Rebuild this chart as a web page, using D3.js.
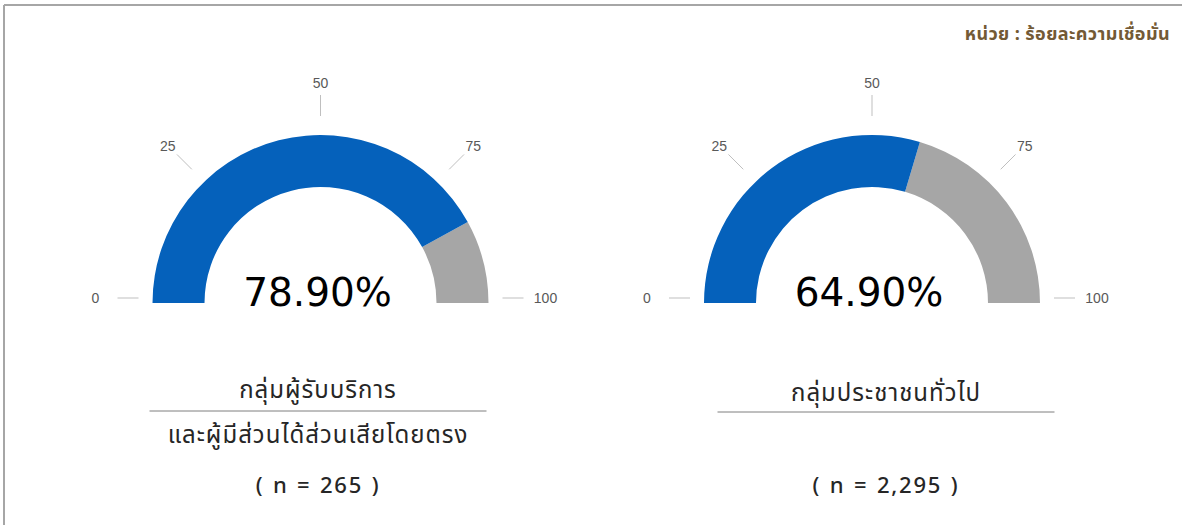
<!DOCTYPE html>
<html>
<head>
<meta charset="UTF-8">
<script src="https://d3js.org/d3.v7.min.js"></script>
<style>
  body { margin: 0; background: #fff; }
  svg { display: block; }
</style>
</head>
<body>
<svg id="chart" width="1182" height="525"></svg>
<script>
// data
const groupLine1 = ["กลุ่มผู้รับบริการ", "กลุ่มประชาชนทั่วไป"];
const groupLine2 = ["และผู้มีส่วนได้ส่วนเสียโดยตรง", ""];
const confidence = [78.9, 64.9];      // printed in the middle
const arcFill = [84.0, 59.2];         // filled share of the half ring, as drawn
const sampleSize = ["265", "2,295"];
const tickValues = [0, 25, 50, 75, 100];
const unitLabel = "หน่วย : ร้อยละความเชื่อมั่น";

const svg = d3.select("#chart");
const thaiFont = "'Noto Sans Thai', 'Noto Sans', 'Open Sans', sans-serif";
const numFont = "'DejaVu Sans', 'Liberation Sans', sans-serif";

// frame (top + left edges visible only)
svg.append("line").attr("x1", 4).attr("y1", 5).attr("x2", 1182).attr("y2", 5)
   .attr("stroke", "#a6a6a6").attr("stroke-width", 2);
svg.append("line").attr("x1", 4).attr("y1", 5).attr("x2", 4).attr("y2", 525)
   .attr("stroke", "#a6a6a6").attr("stroke-width", 2);

svg.append("text")
   .attr("x", 1170).attr("y", 40)
   .attr("text-anchor", "end")
   .style("font-family", thaiFont)
   .style("font-size", "18px")
   .style("font-weight", "bold")
   .style("letter-spacing", "0.4px")
   .attr("fill", "#735a35")
   .text(unitLabel);

const centersX = [320.5, 872];
const centerY = 303;
const rOuter = 168;
const rInner = 116;

const angle = d3.scaleLinear().domain([0, 100]).range([-Math.PI / 2, Math.PI / 2]);
const arc = d3.arc().innerRadius(rInner).outerRadius(rOuter);

const gauges = svg.selectAll("g.gauge")
   .data(confidence.map((v, i) => ({ v, fill: arcFill[i], i })))
   .join("g")
   .attr("class", "gauge")
   .attr("transform", d => `translate(${centersX[d.i]},${centerY})`);

gauges.append("path")
   .attr("fill", "#a6a6a6")
   .attr("d", d => arc({ startAngle: angle(d.fill), endAngle: angle(100) }));

gauges.append("path")
   .attr("fill", "#0561bb")
   .attr("d", d => arc({ startAngle: angle(0), endAngle: angle(d.fill) }));

// ticks and labels around the gauge
const tickG = gauges.append("g").attr("transform", "translate(0,-5)");
tickG.selectAll("line")
   .data(tickValues)
   .join("line")
   .attr("x1", t => 182 * Math.sin(angle(t)))
   .attr("y1", t => -182 * Math.cos(angle(t)))
   .attr("x2", t => 203 * Math.sin(angle(t)))
   .attr("y2", t => -203 * Math.cos(angle(t)))
   .attr("stroke", "#bfbfbf")
   .attr("stroke-width", 1);

tickG.selectAll("text")
   .data(tickValues)
   .join("text")
   .attr("x", t => (t === 0 || t === 100 ? 225 : 216) * Math.sin(angle(t)))
   .attr("y", t => -215 * Math.cos(angle(t)))
   .attr("dy", "0.35em")
   .attr("text-anchor", "middle")
   .style("font-family", "'Liberation Sans', Arial, sans-serif")
   .style("font-size", "14px")
   .attr("fill", "#595959")
   .text(t => t);

gauges.append("text")
   .attr("x", -3).attr("y", 3)
   .attr("text-anchor", "middle")
   .style("font-family", numFont)
   .style("font-size", "39px")
   .attr("fill", "#000")
   .text(d => d.v.toFixed(2) + "%");

// group labels
const labels = svg.selectAll("g.label")
   .data(groupLine1.map((t, i) => ({ t, i })))
   .join("g")
   .attr("class", "label")
   .attr("transform", d => `translate(${[318, 886][d.i]},0)`);

labels.append("text")
   .attr("y", d => [398, 401][d.i])
   .attr("text-anchor", "middle")
   .style("font-family", thaiFont)
   .style("font-size", "24px")
   .style("letter-spacing", "1px")
   .attr("fill", "#262626")
   .text(d => d.t);

labels.append("line")
   .attr("x1", -168.5).attr("x2", 168.5)
   .attr("y1", d => [411, 412][d.i]).attr("y2", d => [411, 412][d.i])
   .attr("stroke", "#7f7f7f").attr("stroke-width", 1);

labels.append("text")
   .attr("y", 443)
   .attr("text-anchor", "middle")
   .style("font-family", thaiFont)
   .style("font-size", "24px")
   .style("letter-spacing", "1px")
   .attr("fill", "#262626")
   .text(d => groupLine2[d.i]);

labels.append("text")
   .attr("y", 493)
   .attr("text-anchor", "middle")
   .style("font-family", thaiFont)
   .style("font-size", "22px")
   .style("font-weight", "500")
   .style("letter-spacing", "1.8px")
   .style("word-spacing", "1px")
   .attr("fill", "#262626")
   .attr("xml:space", "preserve")
   .text(d => `( n = ${sampleSize[d.i]} )`);
</script>
</body>
</html>
